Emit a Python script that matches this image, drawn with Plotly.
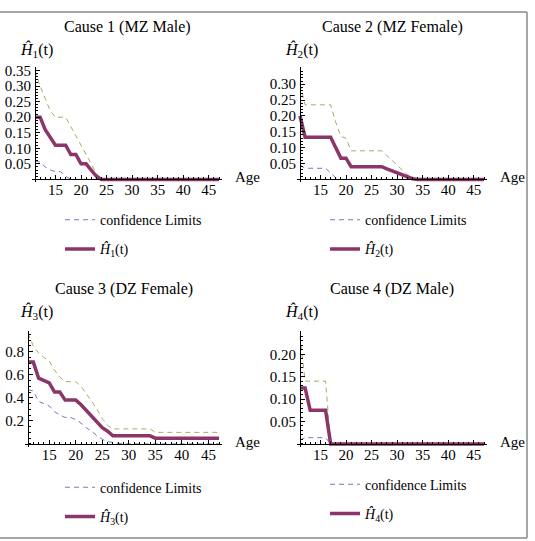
import plotly.graph_objects as go

W, H = 535, 541
FONT = "Liberation Serif, Times New Roman, serif"

ages = list(range(11, 48))  # 11..47

titles = ["Cause 1 (MZ Male)", "Cause 2 (MZ Female)", "Cause 3 (DZ Female)", "Cause 4 (DZ Male)"]
hat_labels = ["<i>Ĥ</i><sub>1</sub>(t)", "<i>Ĥ</i><sub>2</sub>(t)",
              "<i>Ĥ</i><sub>3</sub>(t)", "<i>Ĥ</i><sub>4</sub>(t)"]
ci_name = "confidence Limits"
x_label = "Age"
x_ticks = [15, 20, 25, 30, 35, 40, 45]
y_ticks = [
    [0.05, 0.10, 0.15, 0.20, 0.25, 0.30, 0.35],
    [0.05, 0.10, 0.15, 0.20, 0.25, 0.30],
    [0.2, 0.4, 0.6, 0.8],
    [0.05, 0.10, 0.15, 0.20],
]
y_tick_text = [
    ["0.05", "0.10", "0.15", "0.20", "0.25", "0.30", "0.35"],
    ["0.05", "0.10", "0.15", "0.20", "0.25", "0.30"],
    ["0.2", "0.4", "0.6", "0.8"],
    ["0.05", "0.10", "0.15", "0.20"],
]
y_max = [0.36, 0.353, 0.98, 0.252]
y_minor = [0.01, 0.01, 0.05, 0.01]

# ---- Cause 1 ----
h1 = [0.20, 0.20, 0.16, 0.135, 0.11, 0.11, 0.11, 0.08, 0.08, 0.05, 0.05, 0.03, 0.01,
      0, 0, 0, 0, 0, 0, 0, 0, 0, 0, 0, 0, 0, 0, 0, 0, 0, 0, 0, 0, 0, 0, 0, 0]
up1 = [0.35, 0.30, 0.26, 0.22, 0.20, 0.20, 0.20, 0.17, 0.14, 0.11, 0.08, 0.05, 0.02,
       0, 0, 0, 0, 0, 0, 0, 0, 0, 0, 0, 0, 0, 0, 0, 0, 0, 0, 0, 0, 0, 0, 0, 0]
lo1 = [0.06, 0.055, 0.04, 0.03, 0.025, 0.025, 0.01, 0,
       0, 0, 0, 0, 0, 0, 0, 0, 0, 0, 0, 0, 0, 0, 0, 0, 0, 0, 0, 0, 0, 0, 0, 0, 0, 0, 0, 0, 0]
# ---- Cause 2 ----
h2 = [0.20, 0.133, 0.133, 0.133, 0.133, 0.133, 0.133, 0.10, 0.067, 0.067, 0.04, 0.04, 0.04,
      0.04, 0.04, 0.04, 0.04, 0.033, 0.027, 0.02, 0.013, 0.007, 0.002,
      0, 0, 0, 0, 0, 0, 0, 0, 0, 0, 0, 0, 0, 0]
up2 = [0.30, 0.235, 0.235, 0.235, 0.235, 0.235, 0.235, 0.18, 0.135, 0.13, 0.09, 0.09, 0.09,
       0.09, 0.09, 0.09, 0.09, 0.075, 0.06, 0.045, 0.03, 0.015, 0.005,
       0, 0, 0, 0, 0, 0, 0, 0, 0, 0, 0, 0, 0, 0]
lo2 = [0.045, 0.035, 0.035, 0.035, 0.035, 0.035, 0.02, 0.005,
       0, 0, 0, 0, 0, 0, 0, 0, 0, 0, 0, 0, 0, 0, 0, 0, 0, 0, 0, 0, 0, 0, 0, 0, 0, 0, 0, 0, 0]
# ---- Cause 3 ----
h3 = [0.71, 0.71, 0.57, 0.55, 0.53, 0.45, 0.45, 0.38, 0.38, 0.38, 0.34, 0.29, 0.24, 0.19,
      0.14, 0.11, 0.07, 0.07, 0.07, 0.07, 0.07, 0.07, 0.07, 0.07,
      0.05, 0.05, 0.05, 0.05, 0.05, 0.05, 0.05, 0.05, 0.05, 0.05, 0.05, 0.05, 0.05]
up3 = [0.96, 0.85, 0.79, 0.75, 0.72, 0.64, 0.58, 0.54, 0.54, 0.54, 0.50, 0.44, 0.37, 0.30,
       0.22, 0.16, 0.13, 0.13, 0.13, 0.13, 0.13, 0.13, 0.13, 0.13,
       0.10, 0.10, 0.10, 0.10, 0.10, 0.10, 0.10, 0.10, 0.10, 0.10, 0.10, 0.10, 0.10]
lo3 = [0.47, 0.46, 0.37, 0.35, 0.33, 0.28, 0.25, 0.23, 0.23, 0.21, 0.18, 0.14, 0.11, 0.07,
       0.04, 0.02, 0.01, 0.005,
       0, 0, 0, 0, 0, 0, 0, 0, 0, 0, 0, 0, 0, 0, 0, 0, 0, 0, 0]
# ---- Cause 4 ----
h4 = [0.125, 0.125, 0.075, 0.075, 0.075, 0.075,
      0, 0, 0, 0, 0, 0, 0, 0, 0, 0, 0, 0, 0, 0, 0, 0, 0, 0, 0, 0, 0, 0, 0, 0, 0, 0, 0, 0, 0, 0, 0]
up4 = [0.24, 0.14, 0.14, 0.14, 0.14, 0.14,
       0, 0, 0, 0, 0, 0, 0, 0, 0, 0, 0, 0, 0, 0, 0, 0, 0, 0, 0, 0, 0, 0, 0, 0, 0, 0, 0, 0, 0, 0, 0]
lo4 = [0.008, 0.014, 0.014, 0.014, 0.014, 0.014,
       0, 0, 0, 0, 0, 0, 0, 0, 0, 0, 0, 0, 0, 0, 0, 0, 0, 0, 0, 0, 0, 0, 0, 0, 0, 0, 0, 0, 0, 0, 0]

mains = [h1, h2, h3, h4]
uppers = [up1, up2, up3, up4]
lowers = [lo1, lo2, lo3, lo4]

MAIN_C = "#8C3568"
UP_C = "#ACA962"
LO_C = "#7676C6"

# pixel layout: left (x=11), right (x=47), top (y max), zero line
boxes = [(35, 219, 63, 176), (300, 484, 63, 176), (28, 219, 329, 443), (300, 484, 329, 443)]
title_y = [22, 22, 287, 287]
label_cx = [36, 301, 36, 301]
label_y = [45, 45, 310, 310]
legend_pos = [(60, 201), (325, 201), (60, 471), (325, 468)]

fig = go.Figure()
layout = dict(
    width=W, height=H, margin=dict(l=0, r=0, t=0, b=0),
    paper_bgcolor="white", plot_bgcolor="white",
    font=dict(family=FONT, size=14, color="black"),
    annotations=[], shapes=[],
)

for i in range(4):
    sfx = "" if i == 0 else str(i + 1)
    xa, ya = "x" + sfx, "y" + sfx
    lg = "legend" + sfx
    fig.add_trace(go.Scatter(x=ages, y=lowers[i], mode="lines", name=ci_name,
                             line=dict(color=LO_C, width=1, dash="5px,4px"),
                             xaxis=xa, yaxis=ya, legend=lg, legendgroup="ci" + sfx))
    fig.add_trace(go.Scatter(x=ages, y=uppers[i], mode="lines", name=ci_name, showlegend=False,
                             line=dict(color=UP_C, width=1, dash="5px,4px"),
                             xaxis=xa, yaxis=ya, legend=lg, legendgroup="ci" + sfx))
    fig.add_trace(go.Scatter(x=ages, y=mains[i], mode="lines", name=hat_labels[i],
                             line=dict(color=MAIN_C, width=3.5),
                             xaxis=xa, yaxis=ya, legend=lg, legendgroup="h" + sfx))

    l, r, t, z = boxes[i]
    sx = (r - l) / (ages[-1] - ages[0])
    sy = (z - t) / y_max[i]
    pad = 3
    layout["xaxis" + sfx] = dict(
        domain=[(l - pad) / W, (r + pad) / W],
        range=[ages[0] - pad / sx, ages[-1] + pad / sx],
        anchor="free", position=1 - z / H,
        showline=True, linecolor="black", linewidth=1,
        ticks="inside", ticklen=4, tickcolor="black", tickwidth=1,
        tickvals=x_ticks, ticklabelstandoff=-3,
        minor=dict(dtick=1, tick0=0, ticks="inside", ticklen=2, tickcolor="black"),
        showgrid=False, zeroline=False,
        tickfont=dict(family=FONT, size=15, color="black"),
    )
    layout["yaxis" + sfx] = dict(
        domain=[1 - (z + pad) / H, 1 - t / H],
        range=[-pad / sy, y_max[i]],
        anchor="free", position=l / W,
        showline=True, linecolor="black", linewidth=1,
        ticks="inside", ticklen=4, tickcolor="black", tickwidth=1,
        tickvals=y_ticks[i], ticktext=y_tick_text[i], ticklabelstandoff=1,
        minor=dict(dtick=y_minor[i], tick0=0, ticks="inside", ticklen=2, tickcolor="black"),
        showgrid=False, zeroline=False,
        tickfont=dict(family=FONT, size=15, color="black"),
    )
    # title
    layout["annotations"].append(dict(
        text=titles[i], x=(l + r) / 2 / W, y=1 - title_y[i] / H, xref="paper", yref="paper",
        xanchor="center", yanchor="middle", showarrow=False,
        font=dict(family=FONT, size=16, color="black")))
    # y label
    layout["annotations"].append(dict(
        text=hat_labels[i], x=label_cx[i] / W, y=1 - label_y[i] / H, xref="paper", yref="paper",
        xanchor="center", yanchor="middle", showarrow=False,
        font=dict(family=FONT, size=16, color="black")))
    # x label
    layout["annotations"].append(dict(
        text=x_label, x=(r + 14) / W, y=1 - (z - 2) / H, xref="paper", yref="paper",
        xanchor="left", yanchor="middle", showarrow=False,
        font=dict(family=FONT, size=15, color="black")))
    lx, ly = legend_pos[i]
    layout[lg] = dict(
        x=lx / W, y=1 - ly / H, xanchor="left", yanchor="top",
        bgcolor="rgba(0,0,0,0)", borderwidth=0,
        font=dict(family=FONT, size=14, color="black"),
        traceorder="grouped", tracegroupgap=8, itemwidth=30,
    )

# outer frame
FRAME = "#8a8a8a"
layout["shapes"] += [
    dict(type="line", xref="paper", yref="paper", x0=0, x1=527 / W, y0=1 - 7 / H, y1=1 - 7 / H,
         line=dict(color=FRAME, width=1.5)),
    dict(type="line", xref="paper", yref="paper", x0=527 / W, x1=527 / W, y0=1 - 7 / H, y1=1 - 538 / H,
         line=dict(color=FRAME, width=1.5)),
    dict(type="line", xref="paper", yref="paper", x0=0, x1=527 / W, y0=1 - 538 / H, y1=1 - 538 / H,
         line=dict(color=FRAME, width=1.5)),
]

fig.update_layout(**layout)
fig.write_html("out.html")
